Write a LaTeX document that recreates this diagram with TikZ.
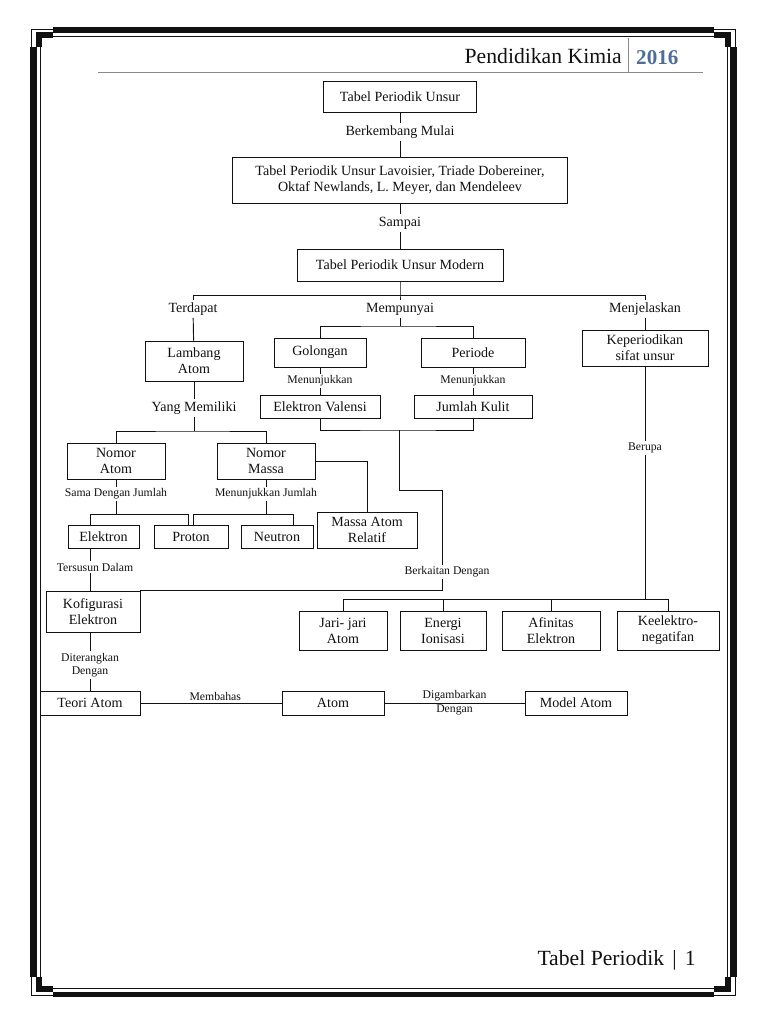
\documentclass[tikz,border=0pt]{standalone}
\usepackage{fontspec}
\setmainfont{Liberation Serif}
\usetikzlibrary{calc}
\definecolor{Paper}{HTML}{FFFFFF}
\definecolor{Ink}{HTML}{111111}
\definecolor{RuleGray}{HTML}{8A8A8A}
\definecolor{YearBlue}{HTML}{4D6E9C}

\begin{document}
\begin{tikzpicture}[x=0.03cm,y=-0.03cm,
  every node/.style={text=Ink,font=\fontsize{12}{13.5}\selectfont},
  kotak/.style 2 args={draw=Ink,line width=.8pt,align=center,inner sep=0pt,minimum width=#1*0.03cm,minimum height=#2*0.03cm},
  judul/.style={inner sep=2pt},
  ket/.style={font=\fontsize{10}{11.5}\selectfont,inner sep=1.5pt,align=center},
  garis/.style={Ink,line width=.8pt}]
\fill[Paper] (0,0) rectangle (768,1024);
\useasboundingbox (0,0) rectangle (768,1024);
\begin{scope}[shift={(383.5,512)}]
\foreach \sx/\sy in {1/1,-1/1,1/-1,-1/-1}{
  \begin{scope}[xscale=\sx,yscale=\sy]
    \fill[Ink] (-330.5,-485) rectangle (0,-479.5);
    \fill[Ink] (-353.5,-465) rectangle (-346.5,0);
    \draw[Ink,line width=.5pt] (-343.5,0) |- (0,-476);
    \fill[Ink] (-347.5,-480) rectangle (-330.5,-474);
    \fill[Ink] (-347.5,-480) rectangle (-341.5,-465);
    \draw[Ink,line width=.5pt] (-351.8,-465) |- (-330.5,-483);
  \end{scope}}
\end{scope}
\node[anchor=base east,inner sep=0pt,font=\fontsize{18.5}{20}\selectfont] (kepala) at (622,63) {Pendidikan Kimia};
\node[anchor=base west,inner sep=0pt,font=\fontsize{18}{20}\selectfont\bfseries,text=YearBlue] (tahun) at (636,64) {2016};
\draw[RuleGray,line width=.8pt] (628,38) -- (628,72);
\draw[RuleGray,line width=1.6pt] (98,72.5) -- (703,72.5);
\node[anchor=base east,inner sep=0pt,font=\fontsize{18.5}{20}\selectfont] (kaki) at (696,965) {Tabel Periodik\hspace{7pt}|\hspace{7pt}1};

\node[kotak={153}{31}] (tpu) at (400,96.5) {Tabel Periodik Unsur};
\node[judul] (berkembang) at (400,132) {Berkembang Mulai};
\node[kotak={335}{46}] (sejarah) at (400,180) {Tabel Periodik Unsur Lavoisier, Triade Dobereiner,\\Oktaf Newlands, L. Meyer, dan Mendeleev};
\node[judul] (sampai) at (400,223) {Sampai};
\node[kotak={206}{32}] (modern) at (400,265) {Tabel Periodik Unsur Modern};
\node[judul] (terdapat) at (193,309) {Terdapat};
\node[judul] (mempunyai) at (400,309) {Mempunyai};
\node[judul] (menjelaskan) at (645,309) {Menjelaskan};
\node[kotak={98}{40}] (lambang) at (194,361) {Lambang\\Atom};
\node[kotak={92}{29}] (golongan) at (320,352.5) {Golongan};
\node[kotak={104}{29}] (periode) at (473,352.5) {Periode};
\node[kotak={126}{36}] (keper) at (645,348) {Keperiodikan\\sifat unsur};
\node[ket] (tunjuk1) at (320,381) {Menunjukkan};
\node[ket] (tunjuk2) at (473,381) {Menunjukkan};
\node[kotak={120}{23}] (valensi) at (320,407) {Elektron Valensi};
\node[kotak={118}{23}] (kulit) at (473,407) {Jumlah Kulit};
\node[judul] (memiliki) at (194,408) {Yang Memiliki};
\node[kotak={98}{36}] (nomoratom) at (116,461) {Nomor\\Atom};
\node[kotak={98}{36}] (nomormassa) at (266,461) {Nomor\\Massa};
\node[ket] (samadengan) at (116,494) {Sama Dengan Jumlah};
\node[ket] (tunjukjumlah) at (266,494) {Menunjukkan Jumlah};
\node[kotak={71}{23}] (elektron) at (103.5,536.5) {Elektron};
\node[kotak={74}{23}] (proton) at (191,536.5) {Proton};
\node[kotak={72}{23}] (neutron) at (277,536.5) {Neutron};
\node[kotak={100}{36}] (massa) at (367,530) {Massa Atom\\Relatif};
\node[ket] (berupa) at (645,448) {Berupa};
\node[ket] (tersusun) at (95,567) {Tersusun Dalam};
\node[ket] (berkaitan) at (447,572) {Berkaitan Dengan};
\node[kotak={94}{41}] (konfig) at (93,611.5) {Kofigurasi\\Elektron};
\node[kotak={88}{39}] (jari) at (343,630.5) {Jari- jari\\Atom};
\node[kotak={86}{39}] (energi) at (443,630.5) {Energi\\Ionisasi};
\node[kotak={98}{39}] (afinitas) at (551,630.5) {Afinitas\\Elektron};
\node[kotak={102}{39}] (keelektro) at (668,630.5) {Keelektro-\\negatifan};
\node[ket] (diterangkan) at (90,665) {Diterangkan\\Dengan};
\node[kotak={100}{24}] (teori) at (90,703) {Teori Atom};
\node[kotak={102}{24}] (atom) at (333,703) {Atom};
\node[kotak={102}{24}] (model) at (576,703) {Model Atom};

\coordinate (cabang) at (400,295);
\coordinate (cabang2) at (400,326);
\coordinate (nomor) at (194,431);
\coordinate (valkul) at (399,430);
\coordinate (belok) at (442,490);
\coordinate (e1) at (90,514);
\coordinate (p1) at (188,514);
\coordinate (p2) at (193,514);
\coordinate (n1) at (293,514);
\coordinate (baris) at (0,599);

\draw[garis] (tpu) -- (berkembang) -- (sejarah) -- (sampai) -- (modern) -- (cabang) -- (mempunyai);
\draw[garis] (terdapat.north) -- (terdapat.north |- cabang) -- (menjelaskan.north |- cabang) -- (menjelaskan.north);
\draw[garis] (terdapat) -- (lambang);
\draw[garis] (menjelaskan) -- (keper);
\draw[garis] (mempunyai) -- (cabang2);
\draw[garis] (golongan.north) |- (cabang2) -| (periode.north);
\draw[garis] (golongan) -- (tunjuk1) -- (valensi);
\draw[garis] (periode) -- (tunjuk2) -- (kulit);
\draw[garis] (lambang) -- (memiliki) -- (nomor);
\draw[garis] (nomoratom.north) |- (nomor) -| (nomormassa.north);
\draw[garis] (valensi.south) |- (valkul) -| (kulit.south);
\draw[garis] (valkul) |- (belok) -- (berkaitan.north -| belok);
\draw[garis] (berkaitan.south -| belok) |- (konfig.north east);
\draw[garis] (nomoratom) -- (samadengan);
\draw[garis] (nomormassa) -- (tunjukjumlah);
\draw[garis] (samadengan) -- (samadengan |- e1);
\draw[garis] (tunjukjumlah) -- (tunjukjumlah |- p2);
\draw[garis] (elektron.north -| e1) -- (e1) -- (p1) -- (proton.north -| p1);
\draw[garis] (proton.north -| p2) -- (p2) -- (n1) -- (neutron.north -| n1);
\draw[garis] (nomormassa.east) -| (massa.north);
\draw[garis] (elektron.south -| e1) -- (tersusun.north -| e1);
\draw[garis] (tersusun.south -| e1) -- (konfig.north -| e1);
\draw[garis] (keper) -- (berupa);
\draw[garis] (berupa.south) -- (berupa.south |- baris);
\draw[garis] (jari.north) -- (jari.north |- baris) -- (keelektro.north |- baris) -- (keelektro.north);
\draw[garis] (energi.north) -- (energi.north |- baris);
\draw[garis] (afinitas.north) -- (afinitas.north |- baris);
\draw[garis] (konfig.south -| diterangkan) -- (diterangkan) -- (teori);
\draw[garis] (teori) -- node[ket,above,pos=.53] (membahas) {Membahas} (atom);
\draw[garis] (atom) -- node[ket,above] (digambar) {Digambarkan} node[ket,below] (dengan) {Dengan} (model);
\end{tikzpicture}
\end{document}
